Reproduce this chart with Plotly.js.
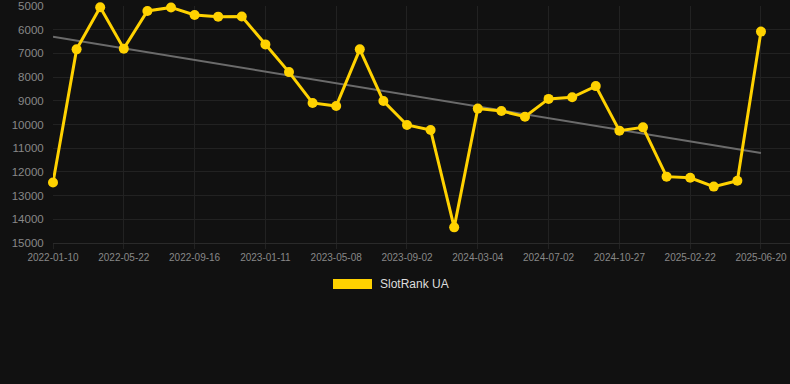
<!DOCTYPE html>
<html>
<head>
<meta charset="utf-8">
<script src="https://cdn.plot.ly/plotly-3.0.1.min.js"></script>
<style>
html,body{margin:0;padding:0;background:#111111;}
#chart{width:790px;height:384px;}
</style>
</head>
<body>
<div id="chart"></div>
<script>
// Dates of each observation (intermediate dates estimated; labelled ones read from axis)
const dates = [
  "2022-01-10","2022-02-23","2022-04-08","2022-05-22","2022-06-30","2022-08-08",
  "2022-09-16","2022-10-25","2022-12-03","2023-01-11","2023-02-19","2023-03-30",
  "2023-05-08","2023-06-15","2023-07-25","2023-09-02","2023-11-02","2024-01-02",
  "2024-03-04","2024-04-12","2024-05-22","2024-07-02","2024-08-10","2024-09-18",
  "2024-10-27","2024-12-04","2025-01-14","2025-02-22","2025-04-01","2025-05-11",
  "2025-06-20"
];
// SlotRank UA rank values
const ranks = [
  12450, 6830, 5050, 6800, 5210, 5060,
  5380, 5450, 5440, 6620, 7790, 9090,
  9220, 6830, 9010, 10020, 10230, 14340,
  9330, 9430, 9670, 8920, 8850, 8380,
  10260, 10120, 12200, 12250, 12620, 12370,
  6080
];
const tickLabels = ["2022-01-10","2022-05-22","2022-09-16","2023-01-11","2023-05-08",
  "2023-09-02","2024-03-04","2024-07-02","2024-10-27","2025-02-22","2025-06-20"];
const yTicks = [5000,6000,7000,8000,9000,10000,11000,12000,13000,14000,15000];
const seriesName = "SlotRank UA";

// least-squares trend line over the series
const n = ranks.length;
let sx=0, sy=0, sxy=0, sxx=0;
for (let i=0;i<n;i++){ sx+=i; sy+=ranks[i]; sxy+=i*ranks[i]; sxx+=i*i; }
const slope = (n*sxy - sx*sy)/(n*sxx - sx*sx);
const icpt = (sy - slope*sx)/n;
const trend = [icpt, icpt + slope*(n-1)];

const yellow = "#FFD200";
const grid = "#222222";

const traces = [
  {
    x: [dates[0], dates[n-1]], y: trend, type: "scatter", mode: "lines",
    line: {color: "#6b6b6b", width: 2}, hoverinfo: "skip", showlegend: false,
    cliponaxis: false
  },
  {
    x: dates, y: ranks, type: "scatter", mode: "lines+markers", name: seriesName,
    line: {color: yellow, width: 3}, marker: {color: yellow, size: 10},
    showlegend: false, cliponaxis: false
  }
];

const layout = {
  width: 790, height: 384,
  margin: {l: 53, r: 0, t: 6, b: 141},
  paper_bgcolor: "#111111", plot_bgcolor: "#111111",
  font: {family: "Arial, 'Liberation Sans', sans-serif", color: "#888888"},
  showlegend: false,
  xaxis: {
    type: "category",
    categoryorder: "array", categoryarray: dates,
    range: [0, 31.23],
    tickmode: "array", tickvals: tickLabels, ticktext: tickLabels,
    tickangle: 0,
    tickfont: {size: 10, color: "#888888"},
    showgrid: true, gridcolor: grid, gridwidth: 1,
    ticks: "outside", ticklen: 5, tickcolor: grid,
    showline: true, linecolor: "#2a2a2a", linewidth: 1,
    zeroline: false, fixedrange: true
  },
  yaxis: {
    range: [15000, 5000],
    tickmode: "array", tickvals: yTicks, tickformat: "d",
    tickfont: {size: 11.5, color: "#888888"},
    showgrid: true, gridcolor: grid, gridwidth: 1,
    ticks: "outside", ticklen: 6, tickcolor: "#111111",
    showline: false, zeroline: false, fixedrange: true
  },
  shapes: [
    {type: "rect", xref: "paper", yref: "paper",
     x0: (333-53)/737, x1: (372-53)/737, y0: (243-289)/237, y1: (243-279)/237,
     fillcolor: yellow, line: {width: 0}}
  ],
  annotations: [
    {xref: "paper", yref: "paper", x: (378-53)/737, y: (243-284)/237,
     xanchor: "left", yanchor: "middle", showarrow: false,
     text: seriesName, font: {size: 12, color: "#dddddd"}}
  ]
};

Plotly.newPlot("chart", traces, layout, {staticPlot: true, displayModeBar: false});
</script>
</body>
</html>
